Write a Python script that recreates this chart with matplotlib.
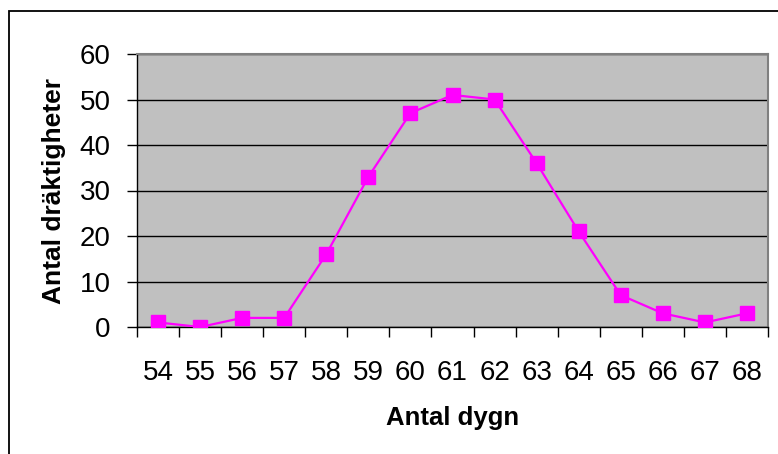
import matplotlib
matplotlib.use("Agg")
import matplotlib.pyplot as plt
from matplotlib.patches import Rectangle

# Antal dygn (dräktighetslängd) och antal dräktigheter
days = ["54", "55", "56", "57", "58", "59", "60", "61", "62", "63", "64", "65", "66", "67", "68"]
counts = [1, 0, 2, 2, 16, 33, 47, 51, 50, 36, 21, 7, 3, 1, 3]

plt.rcParams["font.family"] = ["Liberation Sans", "DejaVu Sans"]

fig = plt.figure(figsize=(7.78, 4.54), dpi=100)
ax = fig.add_axes([137 / 778, 1 - 327 / 454, (768 - 137) / 778, (327 - 54) / 454])

pos = list(range(len(days)))
ax.set_facecolor("#c0c0c0")
ax.plot(pos, counts, color="#ff00ff", lw=1.6, marker="s", markersize=9.5,
        markerfacecolor="#ff00ff", markeredgecolor="#ff00ff", zorder=3)

ax.set_xlim(-0.5, len(days) - 0.5)
ax.set_ylim(0, 60)
ax.set_yticks(range(0, 61, 10))
ax.yaxis.grid(True, color="black", lw=1)
ax.set_axisbelow(True)

# category boundaries get tick marks, labels sit in the middle
ax.set_xticks([p - 0.5 for p in pos] + [len(days) - 0.5])
ax.set_xticklabels([])
ax.set_xticks(pos, minor=True)
ax.set_xticklabels(days, minor=True)
ax.tick_params(axis="x", which="major", direction="out", length=7, width=1, color="black")
ax.tick_params(axis="x", which="minor", length=0, pad=24, labelsize=20)
ax.tick_params(axis="y", direction="out", length=7, width=1, labelsize=20, pad=12)

for side in ["top", "right"]:
    ax.spines[side].set_color("#808080")
    ax.spines[side].set_linewidth(1.5)
for side in ["left", "bottom"]:
    ax.spines[side].set_color("black")
    ax.spines[side].set_linewidth(1)

ax.set_xlabel("Antal dygn", fontsize=18.5, fontweight="bold", labelpad=14)
ax.set_ylabel("Antal dräktigheter", fontsize=19, fontweight="bold", labelpad=10)

# outer chart frame
fig.patches.append(Rectangle((9 / 778, -0.1), 1.2, 1.1 - 11 / 454, transform=fig.transFigure,
                             fill=False, edgecolor="black", lw=1.3))

fig.savefig("out.png", dpi=100)
